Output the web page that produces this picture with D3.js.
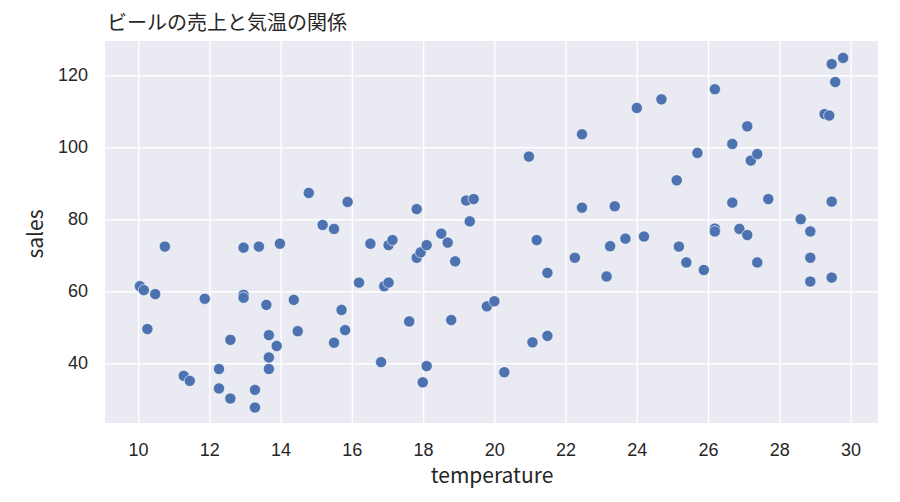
<!DOCTYPE html>
<html>
<head>
<meta charset="utf-8">
<script src="https://cdn.jsdelivr.net/npm/d3@7"></script>
<style>
  body { margin: 0; background: #fff; }
  svg { font-family: "Noto Sans CJK JP", "Noto Sans", sans-serif; }
</style>
</head>
<body>
<div id="chart"></div>
<script>
const title = "ビールの売上と気温の関係";
const xLabel = "temperature";
const yLabel = "sales";
const xTicks = [10, 12, 14, 16, 18, 20, 22, 24, 26, 28, 30];
const yTicks = [40, 60, 80, 100, 120];

const temperature = [
  10.75, 10.05, 10.16, 10.48, 10.26, 11.87, 11.28, 11.45, 12.27, 12.27,
  12.59, 12.59, 12.96, 12.96, 12.96, 13.39, 13.28, 13.28, 13.6, 13.67,
  13.89, 13.67, 13.67, 13.98, 14.37, 14.48, 14.79, 15.18, 15.5, 15.5,
  15.71, 15.81, 15.88, 16.2, 16.52,
  17.03, 17.14, 16.91, 17.03, 16.82, 17.61, 17.82, 17.82, 17.93, 18.1,
  18.1, 17.99, 18.51, 18.69, 18.9, 18.79, 19.21, 19.42, 19.31, 19.79,
  20.0, 20.28, 20.97, 21.19, 21.49, 21.07, 21.49, 22.46, 22.46, 22.26,
  23.15, 23.25, 23.38, 23.68,
  24.2, 24.0, 24.69, 25.12, 25.18, 25.39, 25.7, 25.88, 26.19, 26.19,
  26.19, 26.68, 26.68, 26.88, 27.1, 27.1, 27.2, 27.38, 27.38, 27.69,
  28.6, 28.87, 28.87, 28.87, 29.27, 29.4, 29.47, 29.79, 29.57, 29.47,
  29.47
];
const sales = [
  72.4, 61.4, 60.3, 59.2, 49.5, 57.9, 36.5, 35.1, 38.4, 33.0,
  46.5, 30.2, 72.1, 59.0, 58.2, 72.4, 32.6, 27.7, 56.2, 47.8,
  44.8, 41.6, 38.4, 73.2, 57.6, 48.9, 87.3, 78.4, 77.3, 45.7,
  54.8, 49.2, 84.8, 62.4, 73.2,
  72.8, 74.2, 61.4, 62.4, 40.3, 51.6, 82.8, 69.3, 70.8, 72.8,
  39.2, 34.7, 76.0, 73.5, 68.3, 52.0, 85.2, 85.6, 79.4, 55.8,
  57.2, 37.5, 97.4, 74.2, 65.1, 45.8, 47.6, 103.6, 83.2, 69.3,
  64.1, 72.5, 83.6, 74.6,
  75.2, 110.9, 113.3, 90.8, 72.4, 68.0, 98.4, 65.9, 116.1, 77.4,
  76.6, 100.9, 84.6, 77.3, 105.8, 75.6, 96.3, 98.1, 68.0, 85.6,
  80.0, 76.6, 69.3, 62.7, 109.2, 108.8, 123.1, 124.8, 118.1, 84.9,
  63.8
];

const width = 900, height = 502;
const margin = {top: 41, right: 22, bottom: 79, left: 105};
const textColor = "#262626";

const data = temperature.map((t, i) => ({t: t, s: sales[i]}));

const x = d3.scaleLinear()
    .domain([9.07, 30.77])
    .range([margin.left, width - margin.right]);

const y = d3.scaleLinear()
    .domain([23.4, 129.5])
    .range([height - margin.bottom, margin.top]);

const svg = d3.select("#chart")
    .append("svg")
    .attr("width", width)
    .attr("height", height);

svg.append("rect")
    .attr("x", margin.left)
    .attr("y", margin.top)
    .attr("width", width - margin.left - margin.right)
    .attr("height", height - margin.top - margin.bottom)
    .attr("fill", "#eaeaf2");

// grid
svg.append("g")
    .attr("transform", `translate(0,${height - margin.bottom})`)
    .call(d3.axisBottom(x).tickValues(xTicks).tickSize(-(height - margin.top - margin.bottom)).tickFormat(""))
    .call(g => g.select(".domain").remove())
    .call(g => g.selectAll(".tick line").attr("stroke", "#fff").attr("stroke-width", 1.4));

svg.append("g")
    .attr("transform", `translate(${margin.left},0)`)
    .call(d3.axisLeft(y).tickValues(yTicks).tickSize(-(width - margin.left - margin.right)).tickFormat(""))
    .call(g => g.select(".domain").remove())
    .call(g => g.selectAll(".tick line").attr("stroke", "#fff").attr("stroke-width", 1.4));

// tick labels
svg.append("g")
    .attr("transform", `translate(0,${height - margin.bottom})`)
    .call(d3.axisBottom(x).tickValues(xTicks).tickSize(0).tickPadding(20))
    .call(g => g.select(".domain").remove())
    .call(g => g.selectAll("text").attr("fill", textColor).style("font-size", "18px"));

svg.append("g")
    .attr("transform", `translate(${margin.left},0)`)
    .call(d3.axisLeft(y).tickValues(yTicks).tickSize(0).tickPadding(17))
    .call(g => g.select(".domain").remove())
    .call(g => g.selectAll("text").attr("fill", textColor).style("font-size", "18px"));

svg.append("text")
    .attr("x", 492)
    .attr("y", 483)
    .attr("text-anchor", "middle")
    .attr("fill", textColor)
    .style("font-size", "21px")
    .text(xLabel);

svg.append("text")
    .attr("transform", `translate(43,234) rotate(-90)`)
    .attr("text-anchor", "middle")
    .attr("fill", textColor)
    .style("font-size", "21px")
    .text(yLabel);

svg.append("text")
    .attr("x", 107)
    .attr("y", 30)
    .attr("fill", textColor)
    .style("font-size", "20px")
    .text(title);

svg.append("g")
    .selectAll("circle")
    .data(data)
    .join("circle")
      .attr("cx", d => x(d.t))
      .attr("cy", d => y(d.s))
      .attr("r", 5.6)
      .attr("fill", "#4c72b0")
      .attr("stroke", "#fff")
      .attr("stroke-width", 0.6);
</script>
</body>
</html>
